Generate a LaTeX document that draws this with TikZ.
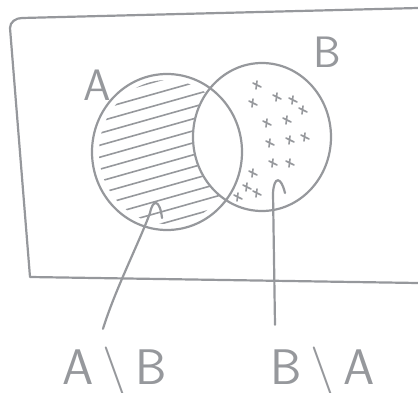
\documentclass[tikz,border=0pt]{standalone}
\usepackage{amsmath}
\usepackage{amssymb}
\usepackage{tikz}
\usetikzlibrary{positioning}
\definecolor{Lapiz}{RGB}{150, 152, 156}

\begin{document}
\begin{tikzpicture}[x=1pt, y=-1pt,
        trazo/.style={
            draw=Lapiz,
            line width=2.2pt,
            line cap=round,
            line join=round
        },
        raya/.style={
            draw=Lapiz,
            line width=1.6pt,
            line cap=round
        },
        letra/.style={
            text=Lapiz,
            inner sep=0pt,
            font=\sffamily\fontsize{44}{44}\selectfont
        },
        resta/.style={
            text=Lapiz,
            inner sep=0pt,
            font=\sffamily\fontsize{50}{50}\selectfont
        }
    ]
        \useasboundingbox (0,0) rectangle (418,393);

        % Universe (open on the right side)
        \draw[trazo] (418,8) -- (22,18) to[out=180,in=90] (10,28) -- (30,277) -- (418,283);

        % Hatching of A minus B
        \begin{scope}
            \clip (167,152) ellipse (68pt and 72pt);
            \foreach \y in {100,112,...,256}
                \draw[raya] (90,\y) -- ++(170,-48);
        \end{scope}
        \fill[white] (262,137) ellipse (69pt and 74pt);

        % Marks of B minus A
        \foreach \p in {(257,85),(253,103),(277,97),(293,100),(303,110),(267,123),(287,120),
                        (270,143),(290,140),(305,137),(273,163),(290,163),(253,173),(247,187),
                        (238,197),(257,193)}
            \draw[raya] \p ++(-4,-2) -- ++(8,4) \p ++(0,-4) -- ++(-1,8);

        % Sets
        \draw[trazo] (167,152) ellipse (75pt and 78pt);
        \draw[trazo] (262,137) ellipse (69pt and 74pt);
        \node[letra] (nA) at (97,85) {A};
        \node[letra] (nB) at (327,52) {B};

        % Labels of the differences
        \node[resta] (dAB) at (115,372) {A\,\textbackslash\,B};
        \node[resta] (dBA) at (323,372) {B\,\textbackslash\,A};
        \coordinate (hA) at (162,218);
        \coordinate (hB) at (285,193);

        \draw[trazo] ([xshift=-12pt, yshift=18pt]dAB.north) .. controls (115,290) and (138,245) .. (150,213)
            .. controls (153,198) and (160,200) .. (hA);
        \draw[trazo] ([xshift=-48pt, yshift=22pt]dBA.north) -- (273,193)
            .. controls (274,176) and (281,176) .. (hB);
    \end{tikzpicture}
\end{document}
